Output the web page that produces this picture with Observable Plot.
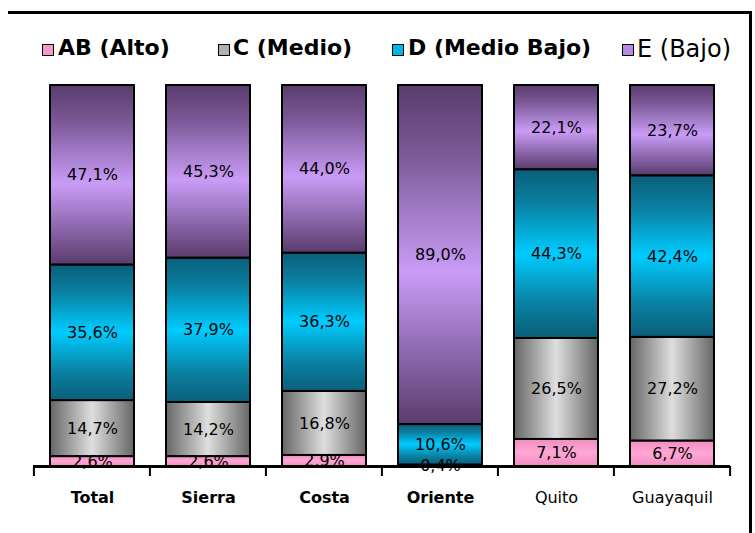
<!DOCTYPE html>
<html><head><meta charset="utf-8">
<script src="https://cdn.jsdelivr.net/npm/d3@7"></script>
<script src="https://cdn.jsdelivr.net/npm/@observablehq/plot@0.6"></script>
<style>
body{margin:0;background:#fff;}
#wrap{position:relative;width:755px;height:533px;overflow:hidden;background:#fff;font-family:"DejaVu Sans",Verdana,sans-serif;}
#frame{position:absolute;left:8px;top:11px;width:741px;height:560px;border-top:3px solid #000;border-right:3px solid #000;z-index:2;}
#legend{position:absolute;left:0;top:0;width:750px;height:70px;overflow:hidden;}
.sw{position:absolute;width:12px;height:12px;border:1px solid #000;box-sizing:border-box;top:44px;}
.lt{position:absolute;top:35px;font-size:22px;white-space:nowrap;color:#000;}
#chart{position:absolute;left:0;top:70px;}
</style></head>
<body>
<div id="wrap">
  <div id="frame"></div>
  <div id="legend"></div>
  <div id="chart"></div>
</div>
<script>
const categories = ["Total","Sierra","Costa","Oriente","Quito","Guayaquil"];
const seriesNames = ["AB (Alto)","C (Medio)","D (Medio Bajo)","E (Bajo)"];
const valuesAB = [2.6,2.6,2.9,0.0,7.1,6.7];
const valuesC  = [14.7,14.2,16.8,0.4,26.5,27.2];
const valuesD  = [35.6,37.9,36.3,10.6,44.3,42.4];
const valuesE  = [47.1,45.3,44.0,89.0,22.1,23.7];
const boldCategories = ["Total","Sierra","Costa","Oriente"];
const gradIds = ["gAB","gC","gD","gE"];
const swatchColors = ["#f59ac8","#b0b0b0","#00b8e6","#b58ae0"];

const seriesValues = [valuesAB, valuesC, valuesD, valuesE];
const data = [];
seriesNames.forEach((s, si) => categories.forEach((c, ci) => data.push({cat: c, series: s, value: seriesValues[si][ci]})));
const fmt = v => v.toFixed(1).replace(".", ",") + "%";

// legend
const legendPos = [[42,58,true,22],[218,233,true,22],[392,408,true,22],[622,637,false,24]];
const legend = document.getElementById("legend");
seriesNames.forEach((s, i) => {
  const sw = document.createElement("div");
  sw.className = "sw"; sw.style.left = legendPos[i][0] + "px"; sw.style.background = swatchColors[i];
  legend.appendChild(sw);
  const t = document.createElement("div");
  t.className = "lt"; t.style.left = legendPos[i][1] + "px"; t.style.fontWeight = legendPos[i][2] ? "bold" : "normal";
  t.style.fontSize = legendPos[i][3] + "px";
  t.textContent = s;
  legend.appendChild(t);
});

const pIn = 0.277;
const plot = Plot.plot({
  width: 755, height: 463,
  marginTop: 15, marginBottom: 67, marginLeft: 33, marginRight: 25,
  style: {fontFamily: "'DejaVu Sans', Verdana, sans-serif", background: "transparent"},
  x: {domain: categories, paddingInner: pIn, paddingOuter: pIn/2, label: null},
  y: {domain: [0, 100], axis: null},
  color: {domain: seriesNames, range: gradIds.map(g => `url(#${g})`)},
  marks: [
    Plot.barY(data, Plot.stackY({x: "cat", y: "value", z: "series", fill: "series", stroke: "#000", strokeWidth: 2, order: null})),
    Plot.text(data, Plot.stackY({x: "cat", y: "value", z: "series", order: null, text: d => d.value > 0 ? fmt(d.value) : "", fontSize: 16, fill: "#000"})),
    Plot.ruleY([0], {stroke: "#000", strokeWidth: 3}),
    Plot.axisX({ticks: boldCategories, tickSize: 0, tickPadding: 25, fontSize: 16, fontWeight: "bold", fill: "#000", label: null}),
    Plot.axisX({ticks: categories.filter(c => !boldCategories.includes(c)), tickSize: 0, tickPadding: 25, fontSize: 16, fill: "#000", label: null})
  ]
});
document.getElementById("chart").appendChild(plot);

// gradients
const svg = d3.select(plot);
const defs = svg.insert("defs", ":first-child");
function grad(id, horiz, stops){
  const g = defs.append("linearGradient").attr("id", id)
    .attr("x1", 0).attr("y1", 0).attr("x2", horiz ? 1 : 0).attr("y2", horiz ? 0 : 1);
  stops.forEach(([o, c]) => g.append("stop").attr("offset", o).attr("stop-color", c));
}
grad("gAB", false, [[0,"#f08cc0"],[0.5,"#ffa8d4"],[1,"#f08cc0"]]);
grad("gC", true, [[0,"#666"],[0.15,"#8a8a8a"],[0.5,"#dedede"],[0.85,"#8a8a8a"],[1,"#666"]]);
grad("gD", false, [[0,"#0a5f7a"],[0.2,"#0a7fa0"],[0.5,"#00ccff"],[0.8,"#0a7fa0"],[1,"#0a5f7a"]]);
grad("gE", false, [[0,"#5a3c6c"],[0.2,"#7a5896"],[0.55,"#c99cf6"],[0.8,"#8a66aa"],[1,"#5a3c6c"]]);

// band-boundary ticks using Plot's x scale
const xs = plot.scale("x");
const yScale = plot.scale("y");
const step = xs.bandwidth / (1 - pIn);
const y0 = yScale.apply(0);
const bounds = categories.map(c => xs.apply(c) - step * pIn / 2);
bounds.push(xs.apply(categories[categories.length-1]) + xs.bandwidth + step * pIn / 2);
svg.append("g").selectAll("line").data(bounds).join("line")
  .attr("x1", d => d).attr("x2", d => d).attr("y1", y0).attr("y2", y0 + 10)
  .attr("stroke", "#000").attr("stroke-width", 2);
</script>
</body></html>
